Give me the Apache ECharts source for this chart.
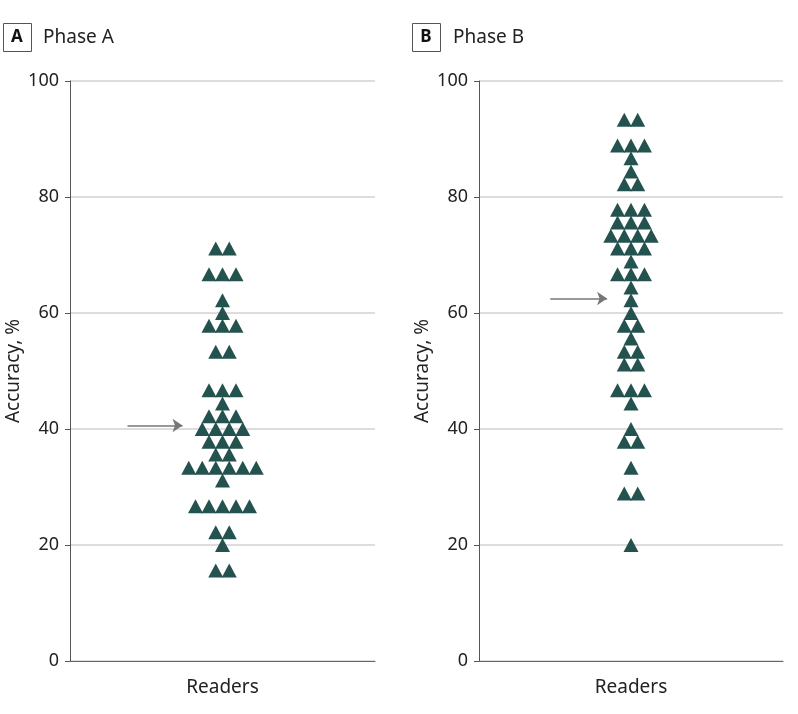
<!DOCTYPE html>
<html><head><meta charset="utf-8">
<script src="https://cdn.jsdelivr.net/npm/echarts@6/dist/echarts.min.js"></script>
<style>html,body{margin:0;padding:0;background:#fff}#c{width:798px;height:714px}</style>
</head><body><div id="c"></div>
<script>
// Reader accuracy (%) per reader
const phaseA = [71.1,71.1, 66.7,66.7,66.7, 62.2, 60.0, 57.8,57.8,57.8, 53.3,53.3,
  46.7,46.7,46.7, 44.4, 42.2,42.2,42.2, 40.0,40.0,40.0,40.0, 37.8,37.8,37.8, 35.6,35.6,
  33.3,33.3,33.3,33.3,33.3,33.3, 31.1, 26.7,26.7,26.7,26.7,26.7, 22.2,22.2, 20.0, 15.6,15.6];
const phaseB = [93.3,93.3, 88.9,88.9,88.9, 86.7, 84.4, 82.2,82.2, 77.8,77.8,77.8,
  75.6,75.6,75.6, 73.3,73.3,73.3,73.3, 71.1,71.1,71.1, 68.9, 66.7,66.7,66.7, 64.4, 62.2, 60.0,
  57.8,57.8, 55.6, 53.3,53.3, 51.1,51.1, 46.7,46.7,46.7, 44.4, 40.0, 37.8,37.8, 33.3, 28.9,28.9, 20.0];
const arrowValues = [40.6, 62.5];
const panelTitles = ['Phase A', 'Phase B'];
const panelLetters = ['A', 'B'];
const yTicks = [0, 20, 40, 60, 80, 100];
const xName = 'Readers';
const yName = 'Accuracy, %';

const STEP = 13.5;      // horizontal spacing of swarm markers (px units)
const HALF = 152.5;     // half width of each panel's x domain
function swarm(vals) {
  const groups = {};
  vals.forEach(v => { (groups[v] = groups[v] || []).push(v); });
  const out = [];
  Object.keys(groups).forEach(k => {
    const n = groups[k].length;
    groups[k].forEach((v, i) => out.push([(i - (n - 1) / 2) * STEP, v]));
  });
  return out;
}
const FONT = 'Noto Sans';
const color = '#24524f';
const grids = [
  {left: 70, top: 81, width: 305, height: 580},
  {left: 479, top: 81, width: 304, height: 580}
];
const arrowX = [[-95, -40], [-81, -24]];
const data = [phaseA, phaseB];

const option = {
  animation: false,
  grid: grids,
  xAxis: grids.map((g, i) => ({
    type: 'value', gridIndex: i, min: -HALF, max: HALF,
    axisLine: {show: true, onZero: false, lineStyle: {color: '#666', width: 1}},
    axisTick: {show: false}, axisLabel: {show: false}, splitLine: {show: false},
    name: xName, nameLocation: 'middle', nameGap: 17,
    nameTextStyle: {fontFamily: FONT, fontSize: 19, color: '#222'}
  })),
  yAxis: grids.map((g, i) => ({
    type: 'value', gridIndex: i, min: 0, max: 100, interval: 20,
    axisLine: {show: true, onZero: false, lineStyle: {color: '#555', width: 1}},
    axisTick: {show: true, length: 5, lineStyle: {color: '#555'}},
    axisLabel: {fontFamily: FONT, fontSize: 18, color: '#222', margin: 11,
      formatter: v => yTicks.includes(v) ? String(v) : ''},
    splitLine: {show: true, lineStyle: {color: '#d2d2d2', width: 1.5}},
    name: yName, nameLocation: 'middle', nameGap: 47, nameRotate: 90,
    nameTextStyle: {fontFamily: FONT, fontSize: 19, color: '#222'}
  })),
  series: data.map((vals, i) => ({
    type: 'scatter', xAxisIndex: i, yAxisIndex: i,
    symbol: 'triangle', symbolSize: [15, 14],
    itemStyle: {color: color, opacity: 1},
    data: swarm(vals),
    markLine: {
      silent: true, animation: false,
      symbol: ['none', 'arrow'], symbolSize: 10,
      label: {show: false},
      lineStyle: {color: '#777', width: 1.5, type: 'solid'},
      data: [[{coord: [arrowX[i][0], arrowValues[i]]}, {coord: [arrowX[i][1], arrowValues[i]]}]]
    }
  })),
  graphic: [0, 1].flatMap(i => {
    const x0 = i === 0 ? 3 : 412;
    const tx = i === 0 ? 43 : 453;
    return [
      {type: 'rect', left: x0, top: 23, shape: {width: 28, height: 28},
        style: {fill: '#fff', stroke: '#555', lineWidth: 1}},
      {type: 'text', x: x0 + 14, y: 37, style: {text: panelLetters[i], fontFamily: FONT,
        fontSize: 17, fontWeight: 'bold', fill: '#111', align: 'center', verticalAlign: 'middle'}},
      {type: 'text', x: tx, y: 38, style: {text: panelTitles[i], fontFamily: FONT,
        fontSize: 19, fill: '#222', align: 'left', verticalAlign: 'middle'}}
    ];
  })
};
const chart = echarts.init(document.getElementById('c'), null, {renderer: 'canvas'});
chart.setOption(option);
</script>
</body></html>
